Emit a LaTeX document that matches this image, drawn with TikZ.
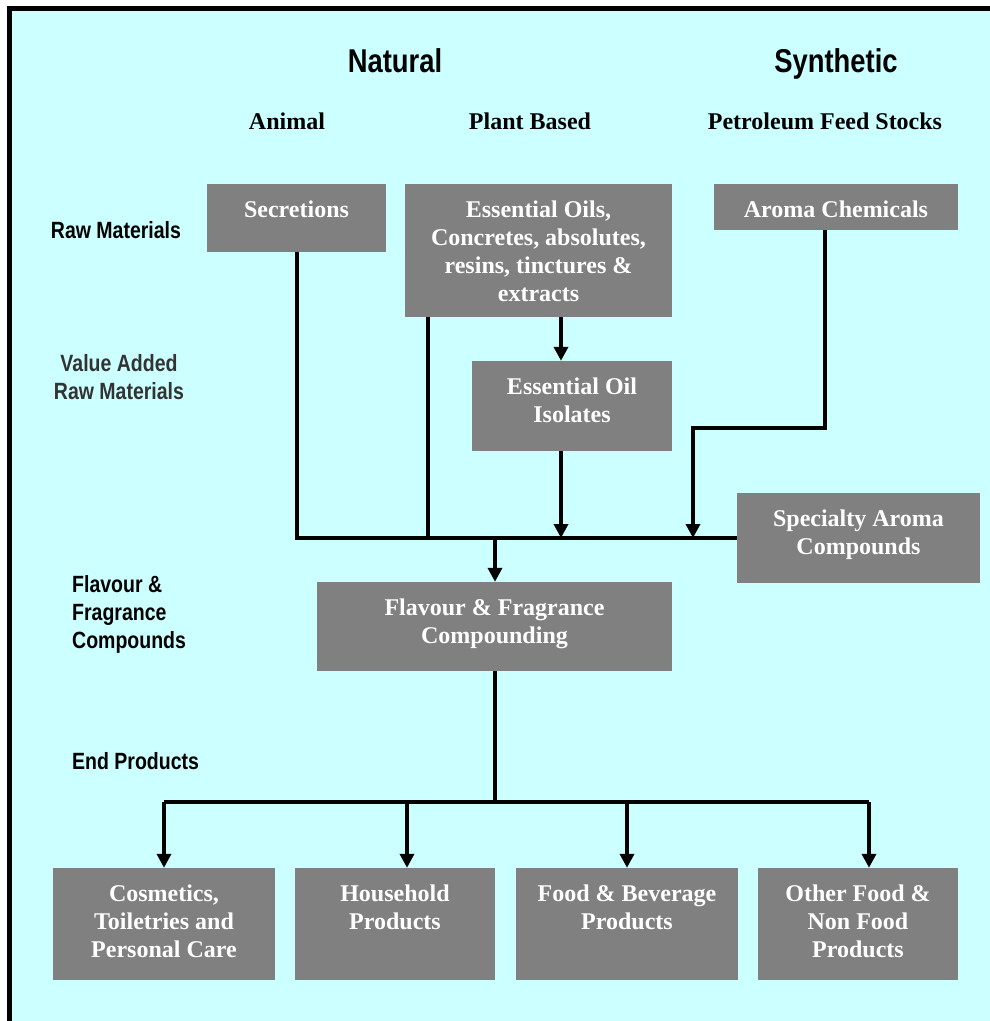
\documentclass[tikz,border=0pt]{standalone}
\usepackage{fontspec}
\setmainfont{Liberation Serif}
\newfontfamily\hdfont[FakeStretch=0.83]{Liberation Sans}
\usepackage{tikz}
\usetikzlibrary{arrows.meta}
\usetikzlibrary{positioning}

\definecolor{bgcyan}{RGB}{204,255,255}
\definecolor{boxgray}{RGB}{128,128,128}
\definecolor{lblgray}{RGB}{51,51,51}

% lines stacked from the first baseline down
\newcommand{\ctop}[1]{\begin{tabular}[t]{@{}c@{}}#1\end{tabular}}
\newcommand{\ltop}[1]{\begin{tabular}[t]{@{}l@{}}#1\end{tabular}}

\begin{document}
\begin{tikzpicture}[x=1pt,y=-1pt,
	box/.style={fill=boxgray, inner sep=0pt, minimum height=#1},
	boxtext/.style={anchor=base, inner sep=0pt, text=white, font=\fontsize{24}{28}\selectfont\bfseries},
	head/.style={anchor=base, inner sep=0pt, font=\hdfont\fontsize{33}{38}\selectfont\bfseries},
	sub/.style={anchor=base, inner sep=0pt, font=\fontsize{24}{28}\selectfont\bfseries},
	side/.style={inner sep=0pt, font=\hdfont\fontsize{23.5}{28}\selectfont\bfseries},
	line/.style={line width=4pt},
	arr/.style={line width=4pt, -{Triangle[width=14pt,length=14pt]}}]

	\useasboundingbox (0,0) rectangle (990,1021);
	\fill[bgcyan] (10,8) rectangle (990,1021);
	\draw[line width=5pt] (9.5,1021) -- (9.5,8.5) -- (990,8.5);

	% headings
	\node[head] (nat) at (395,72) {Natural};
	\node[head] (syn) at (836,72) {Synthetic};
	\node[sub] (ani) at (287,129) {Animal};
	\node[sub] (pla) at (530,129) {Plant Based};
	\node[sub] (pet) at (825,129) {Petroleum Feed Stocks};

	% stages on the left
	\node[side, anchor=base] (raw) at (116,238.5) {Raw Materials};
	\node[side, anchor=base, text=lblgray] (val) at (119,371.5) {\ctop{Value Added\\Raw Materials}};
	\node[side, anchor=base west] (cmp) at (72,592.5) {\ltop{Flavour \&\\Fragrance\\Compounds}};
	\node[side, anchor=base west] (end) at (72,769.5) {End Products};

	% boxes
	\node[box=68, minimum width=179] (sec) at (296.5,218) {};
	\node[boxtext] (sec-t) at ([yshift=-34pt]sec.north) {Secretions};
	\node[box=133, minimum width=267] (eo) at (538.5,250.5) {};
	\node[boxtext] (eo-t) at ([yshift=-34pt]eo.north) {\ctop{Essential Oils,\\Concretes, absolutes,\\resins, tinctures \&\\extracts}};
	\node[box=46, minimum width=244] (arom) at (836,207) {};
	\node[boxtext] (arom-t) at ([yshift=-34pt]arom.north) {Aroma Chemicals};
	\node[box=90, minimum width=200] (iso) at (572,406) {};
	\node[boxtext] (iso-t) at ([yshift=-34pt]iso.north) {\ctop{Essential Oil\\Isolates}};
	\node[box=90, minimum width=243] (spec) at (858.5,538) {};
	\node[boxtext] (spec-t) at ([yshift=-34pt]spec.north) {\ctop{Specialty Aroma\\Compounds}};
	\node[box=89, minimum width=355] (flav) at (494.5,626.5) {};
	\node[boxtext] (flav-t) at ([yshift=-34pt]flav.north) {\ctop{Flavour \& Fragrance\\Compounding}};

	\node[box=112, minimum width=222] (cos) at (164,924) {};
	\node[boxtext] (cos-t) at ([yshift=-34pt]cos.north) {\ctop{Cosmetics,\\Toiletries and\\Personal Care}};
	\node[box=112, minimum width=200] (hh) at (395,924) {};
	\node[boxtext] (hh-t) at ([yshift=-34pt]hh.north) {\ctop{Household\\Products}};
	\node[box=112, minimum width=222] (fb) at (627,924) {};
	\node[boxtext] (fb-t) at ([yshift=-34pt]fb.north) {\ctop{Food \& Beverage\\Products}};
	\node[box=112, minimum width=200] (oth) at (858,924) {};
	\node[boxtext] (oth-t) at ([yshift=-34pt]oth.north) {\ctop{Other Food \&\\Non Food\\Products}};

	% junctions
	\coordinate (b1) at (428,538);
	\coordinate (b2) at (561,538);
	\coordinate (b3) at (693,538);
	\coordinate (b4) at (495,538);
	\coordinate (ac) at (825,428);
	\coordinate (t) at (495,802);
	\coordinate (e1) at (164,802);
	\coordinate (e2) at (407,802);
	\coordinate (e3) at (627,802);
	\coordinate (e4) at (869,802);

	% connectors
	\draw[line] (sec.south) |- (spec.west);
	\draw[line] (eo.south -| b1) -- (b1);
	\draw[arr] (eo.south -| b2) -- (iso.north -| b2);
	\draw[arr] (iso.south -| b2) -- (b2);
	\draw[arr] (arom.south -| ac) -- (ac) -| (b3);
	\draw[arr] (b4) -- (flav.north -| b4);
	\draw[line] (flav.south -| t) -- (t);
	\draw[line] (e1) -- (e4);
	\foreach \e/\b in {e1/cos,e2/hh,e3/fb,e4/oth}
		\draw[arr] (\e) -- (\b.north -| \e);
\end{tikzpicture}
\end{document}
